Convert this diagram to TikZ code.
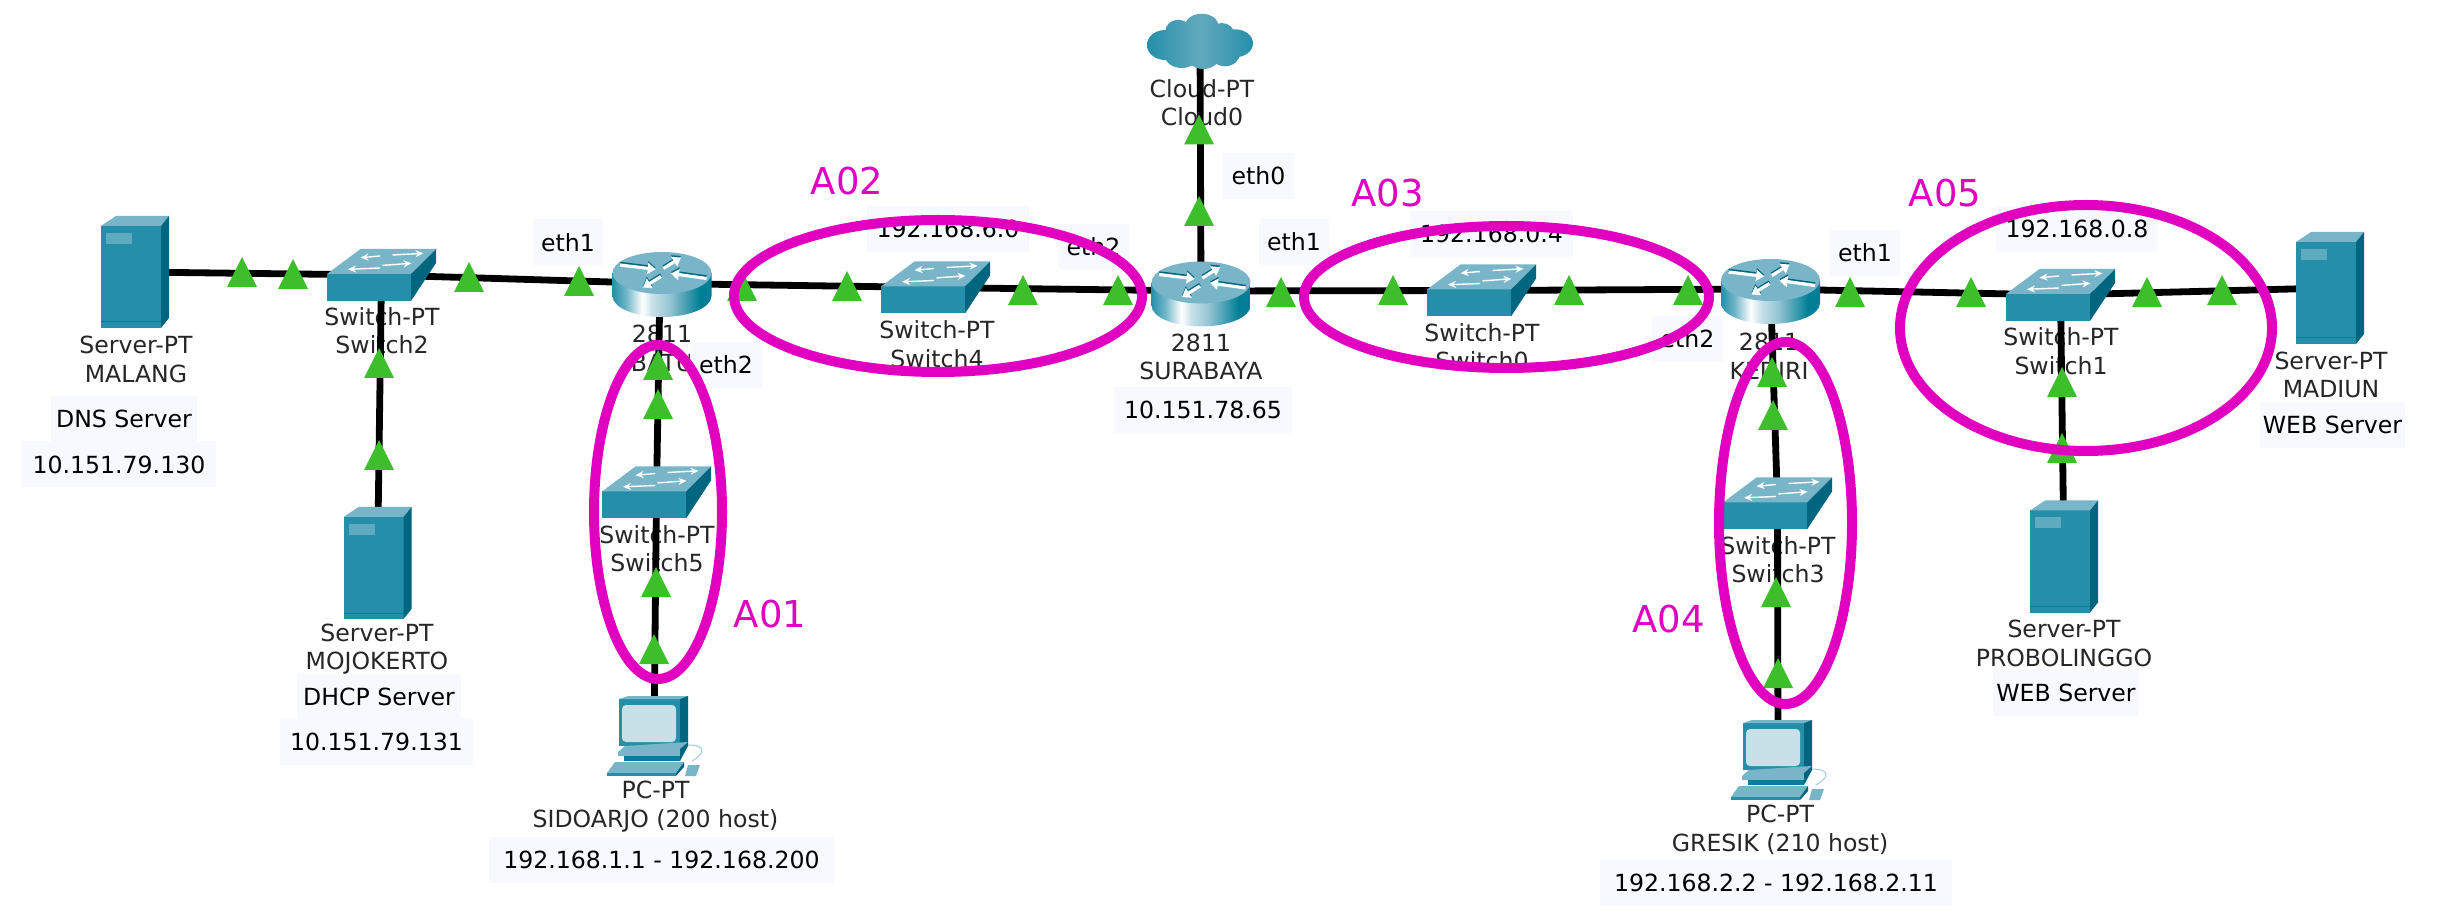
\documentclass[tikz,border=0pt]{standalone}
\usepackage{fontspec}
\setmainfont{DejaVu Sans}
\usetikzlibrary{arrows.meta}
\definecolor{devfront}{HTML}{258FAA}
\definecolor{devside}{HTML}{006680}
\definecolor{devtop}{HTML}{79B5C8}
\definecolor{devscreen}{HTML}{C8E1E9}
\definecolor{devmid}{HTML}{007F96}
\definecolor{cloudmid}{HTML}{62A9BC}
\definecolor{linkgreen}{HTML}{3DBE2B}
\definecolor{zonepink}{HTML}{E100C0}
\definecolor{boxbg}{HTML}{F8F8FF}
\definecolor{labeltext}{HTML}{262626}
% the part of a shading that shows on a path runs from 25bp to 75bp
\pgfdeclarehorizontalshading{routerbody}{100bp}{color(0bp)=(devfront); color(25bp)=(devfront); color(32bp)=(devfront!65!white); color(40bp)=(white); color(45bp)=(devscreen); color(54bp)=(devtop!80!white); color(69bp)=(devmid); color(100bp)=(devmid)}
\pgfdeclarehorizontalshading{cloudbody}{100bp}{color(0bp)=(devfront); color(25bp)=(devfront); color(50bp)=(cloudmid); color(75bp)=(devfront); color(100bp)=(devfront)}
\newcommand\devfont{\fontsize{11.8}{14.25}\selectfont}
\newcommand\zonefont{\fontsize{18.5}{20}\selectfont}
\tikzset{
    devlabel/.style={align=center, font=\devfont, text=labeltext, inner sep=0pt},
    infobox/.style={fill=boxbg, font=\devfont, text=black, inner sep=0pt, minimum height=23pt, minimum width=#1},
    zonelabel/.style={font=\zonefont, text=zonepink, inner sep=0pt},
    zone/.style={draw=zonepink, line width=5pt},
    wire/.style={line width=3.4pt, black},
    swarrow/.style={white, line width=0.7pt, -{Stealth[length=4pt,width=3.5pt]}},
    rtarrow/.style={white, line width=1.6pt, -{Triangle[length=4pt,width=5.5pt]}},
    rtshadow/.style={rtarrow, devside, yshift=0.8pt},
    linkup/.pic={\fill[linkgreen] (-15,15) -- (0,-15) -- (15,15) -- cycle;},
    serverpt/.pic={
        \fill[devfront] (-34,-46) rectangle (26,56);
        \fill[devtop] (-34,-46) -- (-19,-56) -- (34,-56) -- (26,-46) -- cycle;
        \fill[devside] (26,-46) -- (34,-56) -- (34,46) -- (26,56) -- cycle;
        \fill[devtop!70!devfront] (-29,-39) rectangle (-3,-28);
        \draw[devmid, line width=0.5pt] (-34,50) -- (26,50);
    },
    switchpt/.pic={
        \fill[devfront] (-54.5,-1) rectangle (29.5,26);
        \fill[devtop] (-54.5,-1) -- (-21,-26) -- (54.5,-26) -- (29.5,-1) -- cycle;
        \fill[devside] (29.5,-1) -- (54.5,-26) -- (54.5,-12) -- (29.5,26) -- cycle;
        \draw[swarrow] (-1.4,-19) -- (-21,-17.3);
        \draw[swarrow] (11,-20) -- (42,-21.7);
        \draw[swarrow] (-1.4,-7) -- (-33.5,-5.7);
        \draw[swarrow] (1,-9.6) -- (30,-11.7);
    },
    routerpt/.pic={
        \shade[shading=routerbody] (-49.5,-11.5) -- (-49.5,11.5) arc[start angle=180,end angle=0,x radius=49.5,y radius=21] -- (49.5,-11.5) -- cycle;
        \fill[devtop] (0,-11.5) ellipse [x radius=49.5,y radius=21];
        \draw[rtshadow] (-42,-19.5) -- (-6.4,-15.2);
        \draw[rtshadow] (1.3,-16) -- (19,-27);
        \draw[rtshadow] (-1,-8) -- (-19,3);
        \draw[rtshadow] (44.6,-6) -- (9,-11);
        \draw[rtarrow] (-42,-19.5) -- (-6.4,-15.2);
        \draw[rtarrow] (1.3,-16) -- (19,-27);
        \draw[rtarrow] (-1,-8) -- (-19,3);
        \draw[rtarrow] (44.6,-6) -- (9,-11);
    },
    pcpt/.pic={
        \fill[devfront] (-35,-37) rectangle (26,10);
        \fill[devtop] (-35,-37) -- (-26,-40) -- (34,-40) -- (26,-37) -- cycle;
        \fill[devside] (26,-37) -- (34,-40) -- (34,6) -- (26,11) -- cycle;
        \fill[devscreen, rounded corners=2pt] (-32,-31) rectangle (22,6);
        \fill[devtop] (-36,16) -- (-29,10) -- (34,6) -- (26,13) -- (26,20) -- (-36,20) -- cycle;
        \fill[devmid] (-30,20) rectangle (26,25);
        \fill[devside] (26,25) -- (26,13) -- (34,6) -- (34,10) -- cycle;
        \fill[devtop] (-47,37) -- (-39,26) -- (30,26) -- (22,37) -- cycle;
        \fill[devfront] (-47,37) rectangle (22,40);
        \fill[devside] (22,37) -- (30,26) -- (30,31) -- (22,40) -- cycle;
        \fill[devtop] (31,40) -- (34,29) -- (46,29) -- (42,40) -- cycle;
        \draw[devtop!70!white, line width=0.5pt] (34,9) .. controls (52,9) and (52,17) .. (38,25);
    },
    cloudpt/.pic={
        \shade[shading=cloudbody] (-35,2.5) ellipse [x radius=18,y radius=15]
            (-21.7,-10.8) ellipse [x radius=13,y radius=12]
            (1.7,-15.8) ellipse [x radius=17,y radius=13]
            (21.7,-7.5) ellipse [x radius=13,y radius=12]
            (35,0.8) ellipse [x radius=18,y radius=14]
            (25,10.8) ellipse [x radius=15,y radius=13]
            (3.3,12.5) ellipse [x radius=17,y radius=14]
            (-18.3,12.5) ellipse [x radius=17,y radius=13]
            (0,0) ellipse [x radius=30,y radius=20];
    },
}
\begin{document}
\begin{tikzpicture}[x=0.5pt,y=-0.5pt]
\fill[white] (0,0) rectangle (2456,924);
\useasboundingbox (0,0) rectangle (2456,924);
% devices
\coordinate (malang) at (135,272);
\coordinate (switch2) at (381.5,275);
\coordinate (mojokerto) at (377.5,563);
\coordinate (batu) at (660,283.5);
\coordinate (switch5) at (656.5,492.5);
\coordinate (sidoarjo) at (654,736);
\coordinate (switch4) at (935.5,287.5);
\coordinate (surabaya) at (1201,291);
\coordinate (cloud0) at (1200,42.5);
\coordinate (switch0) at (1481.5,290.5);
\coordinate (kediri) at (1770.5,289);
\coordinate (switch3) at (1777.5,503.5);
\coordinate (gresik) at (1778,760);
\coordinate (switch1) at (2060.5,295);
\coordinate (probolinggo) at (2064,556.5);
\coordinate (madiun) at (2330,288);
% labels under the wires
\node[devlabel] (lmalang) at (136,359.5) {Server-PT\\MALANG};
\node[devlabel] (lswitch2) at (382,330.5) {Switch-PT\\Switch2};
\node[devlabel] (lmojokerto) at (377,649) {Server-PT\\MOJOKERTO};
\node[devlabel] (lbatu) at (662,348.5) {2811\\BATU};
\node[devlabel] (lswitch5) at (657,548.5) {Switch-PT\\Switch5};
\node[devlabel] (lsidoarjo) at (655.5,806.5) {PC-PT\\SIDOARJO (200 host)};
\node[devlabel] (lswitch4) at (937,344) {Switch-PT\\Switch4};
\node[devlabel] (lsurabaya) at (1201,357) {2811\\SURABAYA};
\node[devlabel] (lcloud) at (1202,102.5) {Cloud-PT\\Cloud0};
\node[devlabel] (lswitch0) at (1482,346.5) {Switch-PT\\Switch0};
\node[devlabel] (lkediri) at (1769,356) {2811\\KEDIRI};
\node[devlabel] (lswitch3) at (1778,559.5) {Switch-PT\\Switch3};
\node[devlabel] (lgresik) at (1780,830) {PC-PT\\GRESIK (210 host)};
\node[devlabel] (lswitch1) at (2061,351) {Switch-PT\\Switch1};
\node[devlabel] (lprobolinggo) at (2064,643.5) {Server-PT\\PROBOLINGGO};
\node[devlabel] (lmadiun) at (2331,375) {Server-PT\\MADIUN};
% wires
\draw[wire] (malang) -- (switch2);
\draw[wire] (switch2) -- (batu);
\draw[wire] (switch2) -- (mojokerto);
\draw[wire] (batu) -- (switch4);
\draw[wire] (batu) -- (switch5);
\draw[wire] (switch5) -- (sidoarjo);
\draw[wire] (switch4) -- (surabaya);
\draw[wire] (surabaya) -- (cloud0);
\draw[wire] (surabaya) -- (switch0);
\draw[wire] (switch0) -- (kediri);
\draw[wire] (kediri) -- (switch3);
\draw[wire] (switch3) -- (gresik);
\draw[wire] (kediri) -- (switch1);
\draw[wire] (switch1) -- (probolinggo);
\draw[wire] (switch1) -- (madiun);
\foreach \d in {malang,mojokerto,probolinggo,madiun} \pic at (\d) {serverpt};
\foreach \d in {switch2,switch5,switch4,switch0,switch3,switch1} \pic at (\d) {switchpt};
\pic[xshift=1pt,yshift=-0.5pt] at (batu) {routerpt};
\pic[yshift=-1.5pt] at (surabaya) {routerpt};
\pic[yshift=-1.25pt] at (kediri) {routerpt};
\pic at (sidoarjo) {pcpt};
\pic at (gresik) {pcpt};
\pic at (cloud0) {cloudpt};
% link lights
\foreach \x/\y in {242/272,293/274,469/277,579/281,742/286,847/286,1023/290,1118/290,1281/292,1393/290,1569/290,1688/290,1850/292,1971/292,2147/292,2222/290,
    1199/129.5,1199/211,379/363,379/455,658/365,658/404,656/582,654/649,1772/372,1773/415,1776/592,1778/673,2062/382,2062/448}
    \pic at (\x,\y) {linkup};
% boxes
\node[infobox=35pt] (eth1batu) at (568,242.5) {eth1};
\node[infobox=36pt] (eth2batu) at (726,365) {eth2};
\node[infobox=35.5pt] (eth2sby) at (1093.5,247) {eth2};
\node[infobox=35.5pt] (eth0sby) at (1258.5,176) {eth0};
\node[infobox=35pt] (eth1sby) at (1294,242) {eth1};
\node[infobox=35.5pt] (eth2kdr) at (1687.5,339) {eth2};
\node[infobox=35pt] (eth1kdr) at (1865,253) {eth1};
\node[infobox=81pt] (neta02) at (948,229) {192.168.6.0};
\node[infobox=81.5pt] (neta03) at (1491.5,234) {192.168.0.4};
\node[infobox=81pt] (neta05) at (2077,229) {192.168.0.8};
\node[infobox=73pt] (roledns) at (124,419) {DNS Server};
\node[infobox=97pt] (ipdns) at (119,464.5) {10.151.79.130};
\node[infobox=82pt] (roledhcp) at (379,697) {DHCP Server};
\node[infobox=96.5pt] (ipdhcp) at (376.5,742) {10.151.79.131};
\node[infobox=89pt] (ipsby) at (1203,410) {10.151.78.65};
\node[infobox=172.5pt] (ipsidoarjo) at (661.5,860) {192.168.1.1 - 192.168.200};
\node[infobox=176pt] (ipgresik) at (1776,882.5) {192.168.2.2 - 192.168.2.11};
\node[infobox=73pt] (roleprob) at (2066,693) {WEB Server};
\node[infobox=72.5pt] (rolemadiun) at (2332.5,425) {WEB Server};
% zones
\draw[zone] (658,512) ellipse [x radius=64,y radius=167];
\draw[zone] (938,296) ellipse [x radius=204,y radius=76];
\draw[zone] (1506.5,297) ellipse [x radius=202.5,y radius=71];
\draw[zone] (1785.5,523) ellipse [x radius=66.5,y radius=181];
\draw[zone] (2086,328) ellipse [x radius=186,y radius=123];
\node[zonelabel] (a01) at (770,614) {A01};
\node[zonelabel] (a02) at (847,181) {A02};
\node[zonelabel] (a03) at (1387.5,193) {A03};
\node[zonelabel] (a04) at (1668.5,619) {A04};
\node[zonelabel] (a05) at (1945,193) {A05};
\end{tikzpicture}
\end{document}
